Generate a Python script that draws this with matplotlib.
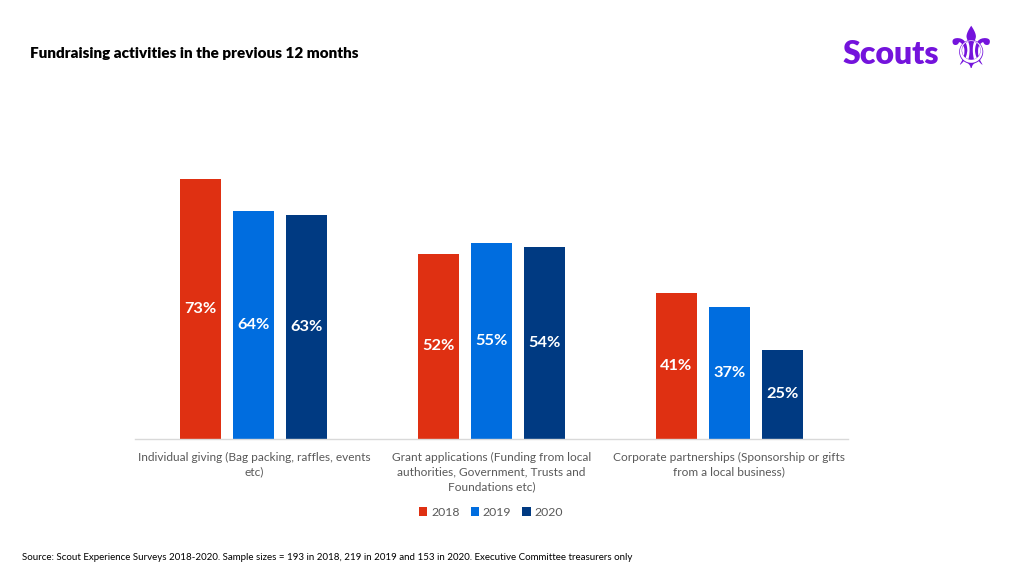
import matplotlib
matplotlib.use("Agg")
import matplotlib.pyplot as plt
import numpy as np

# Chart data
categories = [
    "Individual giving (Bag packing, raffles, events\netc)",
    "Grant applications (Funding from local\nauthorities, Government, Trusts and\nFoundations etc)",
    "Corporate partnerships (Sponsorship or gifts\nfrom a local business)",
]
years = ["2018", "2019", "2020"]
values_2018 = [73, 52, 41]
values_2019 = [64, 55, 37]
values_2020 = [63, 54, 25]
series = [values_2018, values_2019, values_2020]

# Colours
bar_colors = ["#DF3012", "#006DDF", "#003A82"]
purple = "#7413DC"
grey = "#595959"

plt.rcParams['font.family'] = ['Lato', 'DejaVu Sans']

fig = plt.figure(figsize=(10.24, 5.76), dpi=100)
# axes placed in pixel terms: x 135..848, baseline at y=439
ax = fig.add_axes([135 / 1024, 1 - 439 / 576, 713 / 1024, 80 * 3.56 / 576])

x = np.arange(len(categories))
bar_w = 0.1725
step = 0.223

for i, (vals, col, yr) in enumerate(zip(series, bar_colors, years)):
    pos = x + (i - 1) * step
    bars = ax.bar(pos, vals, bar_w, color=col, label=yr)
    for b, v in zip(bars, vals):
        ax.text(b.get_x() + b.get_width() / 2, v / 2, f"{v}%",
                ha="center", va="center", color="white",
                fontsize=11.8, fontweight="bold")

ax.set_xlim(-0.5, 2.5)
ax.set_ylim(0, 80)
ax.set_yticks([])
ax.set_xticks(x)
ax.set_xticklabels(categories, fontsize=8.6, color=grey, linespacing=1.45)
ax.tick_params(axis="x", length=0, pad=9)
for s in ["top", "right", "left"]:
    ax.spines[s].set_visible(False)
ax.spines["bottom"].set_color("#D9D9D9")
ax.spines["bottom"].set_linewidth(1)

leg = fig.legend(loc="center", bbox_to_anchor=(491 / 1024, 1 - 512 / 576),
                 ncol=3, frameon=False, fontsize=8.8, handlelength=0.7,
                 handleheight=0.7, handletextpad=0.3, columnspacing=0.9)
for t in leg.get_texts():
    t.set_color(grey)

# Title
fig.text(30 / 1024, 1 - 53 / 576, "Fundraising activities in the previous 12 months",
         fontsize=10.95, fontweight="heavy", color="black", va="center")

# Logo
fig.text(939 / 1024, 1 - 55 / 576, "Scouts", fontsize=23, fontweight="heavy",
         color=purple, ha="right", va="center")
fig.text(971 / 1024, 1 - 51 / 576, "\u269c", fontsize=42, color=purple,
         ha="center", va="center", family="DejaVu Sans")

# Source
fig.text(22 / 1024, 1 - 558 / 576,
         "Source: Scout Experience Surveys 2018-2020. Sample sizes = 193 in 2018, 219 in 2019 and 153 in 2020. Executive Committee treasurers only",
         fontsize=7.05, color="black", va="center")

fig.savefig("out.png", dpi=100)
